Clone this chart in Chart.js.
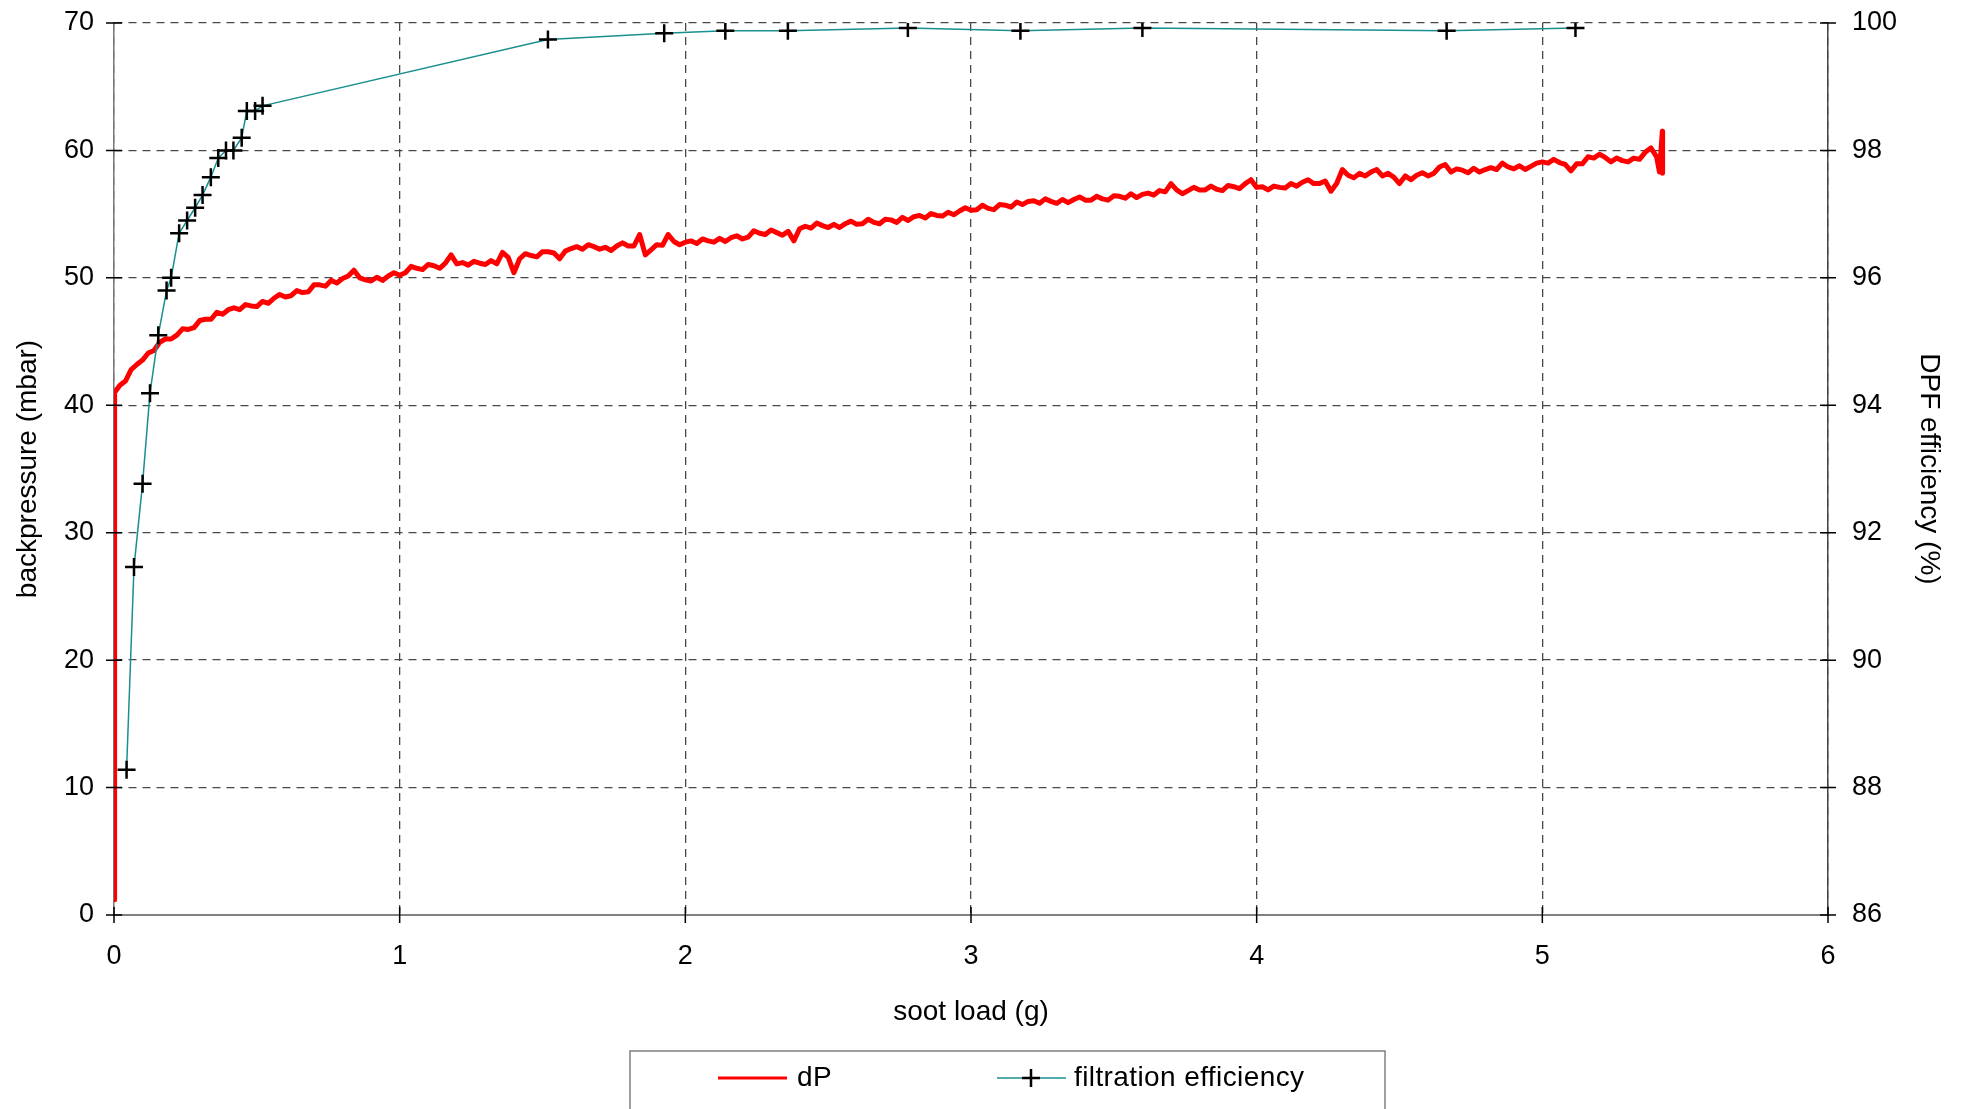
<!DOCTYPE html>
<html>
<head>
<meta charset="utf-8">
<script src="https://cdn.jsdelivr.net/npm/chart.js@4.4.1/dist/chart.umd.min.js"></script>
<style>
  html, body { margin: 0; padding: 0; background: #fff; }
  canvas { display: block; }
</style>
</head>
<body>
<canvas id="chart" width="1961" height="1109"></canvas>
<script>
// soot load (g) of the logged backpressure trace
const dpSoot = [
  0, 0.002,
  0.02,0.04,0.06,0.08,0.10,0.12,0.14,0.16,0.18,0.20,
  0.22,0.24,0.26,0.28,0.30,0.32,0.34,0.36,0.38,0.40,
  0.42,0.44,0.46,0.48,0.50,0.52,0.54,0.56,0.58,0.60,
  0.62,0.64,0.66,0.68,0.70,0.72,0.74,0.76,0.78,0.80,
  0.82,0.84,0.86,0.88,0.90,0.92,0.94,0.96,0.98,1.00,
  1.02,1.04,1.06,1.08,1.10,1.12,1.14,1.16,1.18,1.20,
  1.22,1.24,1.26,1.28,1.30,1.32,1.34,1.36,1.38,1.40,
  1.42,1.44,1.46,1.48,1.50,1.52,1.54,1.56,1.58,1.60,
  1.62,1.64,1.66,1.68,1.70,1.72,1.74,1.76,1.78,1.80,
  1.82,1.84,1.86,1.88,1.90,1.92,1.94,1.96,1.98,2.00,
  2.02,2.04,2.06,2.08,2.10,2.12,2.14,2.16,2.18,2.20,
  2.22,2.24,2.26,2.28,2.30,2.32,2.34,2.36,2.38,2.40,
  2.42,2.44,2.46,2.48,2.50,2.52,2.54,2.56,2.58,2.60,
  2.62,2.64,2.66,2.68,2.70,2.72,2.74,2.76,2.78,2.80,
  2.82,2.84,2.86,2.88,2.90,2.92,2.94,2.96,2.98,3.00,
  3.02,3.04,3.06,3.08,3.10,3.12,3.14,3.16,3.18,3.20,
  3.22,3.24,3.26,3.28,3.30,3.32,3.34,3.36,3.38,3.40,
  3.42,3.44,3.46,3.48,3.50,3.52,3.54,3.56,3.58,3.60,
  3.62,3.64,3.66,3.68,3.70,3.72,3.74,3.76,3.78,3.80,
  3.82,3.84,3.86,3.88,3.90,3.92,3.94,3.96,3.98,4.00,
  4.02,4.04,4.06,4.08,4.10,4.12,4.14,4.16,4.18,4.20,
  4.22,4.24,4.26,4.28,4.30,4.32,4.34,4.36,4.38,4.40,
  4.42,4.44,4.46,4.48,4.50,4.52,4.54,4.56,4.58,4.60,
  4.62,4.64,4.66,4.68,4.70,4.72,4.74,4.76,4.78,4.80,
  4.82,4.84,4.86,4.88,4.90,4.92,4.94,4.96,4.98,5.00,
  5.02,5.04,5.06,5.08,5.10,5.12,5.14,5.16,5.18,5.20,
  5.22,5.24,5.26,5.28,5.30,5.32,5.34,5.36,5.38,5.40,
  5.41, 5.42, 5.421
];

// backpressure dP (mbar)
const dpValues = [
  1.2, 41.0,
  41.55,41.9,42.8,43.2,43.55,44.1,44.3,44.95,45.2,45.2,
  45.5,46.0,45.95,46.1,46.65,46.75,46.75,47.3,47.15,47.5,
  47.65,47.5,47.9,47.8,47.75,48.15,48.0,48.4,48.7,48.5,
  48.6,49.0,48.85,48.9,49.45,49.45,49.35,49.8,49.6,49.95,
  50.15,50.6,50.0,49.85,49.75,50.05,49.8,50.15,50.4,50.2,
  50.4,50.9,50.75,50.65,51.05,50.95,50.75,51.15,51.8,51.1,
  51.2,51.0,51.3,51.15,51.05,51.35,51.1,52.0,51.6,50.4,
  51.5,51.9,51.75,51.65,52.05,52.05,51.95,51.5,52.1,52.3,
  52.45,52.25,52.6,52.45,52.25,52.4,52.15,52.5,52.75,52.5,
  52.5,53.4,51.8,52.2,52.6,52.55,53.4,52.85,52.6,52.8,
  52.9,52.7,53.05,52.9,52.8,53.1,52.85,53.15,53.3,53.05,
  53.2,53.7,53.5,53.4,53.75,53.55,53.35,53.65,52.9,53.85,
  54.05,53.9,54.3,54.1,53.95,54.2,53.95,54.25,54.45,54.2,
  54.25,54.6,54.35,54.25,54.6,54.55,54.35,54.75,54.5,54.8,
  54.9,54.7,55.05,54.9,54.85,55.15,54.95,55.25,55.5,55.3,
  55.35,55.7,55.45,55.35,55.75,55.7,55.55,55.95,55.75,56.0,
  56.05,55.85,56.2,56.0,55.85,56.15,55.9,56.15,56.35,56.1,
  56.1,56.4,56.2,56.1,56.45,56.4,56.25,56.6,56.3,56.55,
  56.65,56.5,56.85,56.75,57.4,56.9,56.6,56.85,57.1,56.9,
  56.9,57.2,56.95,56.85,57.25,57.15,57.0,57.4,57.7,57.1,
  57.15,56.9,57.2,57.1,57.05,57.4,57.2,57.5,57.7,57.4,
  57.4,57.6,56.8,57.4,58.5,58.05,57.85,58.2,58.0,58.3,
  58.5,58.0,58.2,57.9,57.4,58.0,57.7,58.05,58.25,58.0,
  58.2,58.7,58.9,58.3,58.55,58.45,58.25,58.6,58.3,58.5,
  58.65,58.5,59.0,58.7,58.55,58.8,58.5,58.75,59.0,59.1,
  59.0,59.3,59.05,58.9,58.4,58.95,58.95,59.5,59.4,59.7,
  59.45,59.1,59.4,59.2,59.1,59.4,59.3,59.85,60.2,59.5,
  58.3, 61.5, 58.2
];

// filtration efficiency measurements
const effSoot = [0.044, 0.07, 0.10, 0.126, 0.155, 0.184, 0.20, 0.228, 0.256, 0.284,
  0.31, 0.339, 0.365, 0.392, 0.418, 0.447, 0.465, 0.494, 0.52,
  1.519, 1.926, 2.14, 2.359, 2.779, 3.173, 3.60, 4.665, 5.116];
const effValues = [88.28, 91.46, 92.77, 94.19, 95.1, 95.8, 96.0, 96.7, 96.9, 97.1,
  97.3, 97.58, 97.88, 98.0, 98.0, 98.2, 98.62, 98.62, 98.7,
  99.74, 99.84, 99.88, 99.88, 99.92, 99.88, 99.92, 99.88, 99.92];

const fontFamily = "'Liberation Sans', Arial, sans-serif";
const gridColor = '#484848';
const gridDash = [8, 6];

// tick marks that cross the axis lines, like the spreadsheet original
const crossTicks = {
  id: 'crossTicks',
  afterDraw(chart) {
    const { ctx, chartArea, scales } = chart;
    ctx.save();
    ctx.strokeStyle = '#000';
    ctx.lineWidth = 1.5;
    ctx.beginPath();
    scales.y.ticks.forEach(t => {
      const py = scales.y.getPixelForValue(t.value);
      ctx.moveTo(chartArea.left - 8, py);
      ctx.lineTo(chartArea.left + 8, py);
    });
    scales.y1.ticks.forEach(t => {
      const py = scales.y1.getPixelForValue(t.value);
      ctx.moveTo(chartArea.right - 8, py);
      ctx.lineTo(chartArea.right + 8, py);
    });
    scales.x.ticks.forEach(t => {
      const px = scales.x.getPixelForValue(t.value);
      ctx.moveTo(px, chartArea.bottom - 8);
      ctx.lineTo(px, chartArea.bottom + 8);
    });
    ctx.stroke();
    ctx.restore();
  }
};

// boxed legend under the plot
const legendBox = {
  id: 'legendBox',
  afterDraw(chart) {
    const ctx = chart.ctx;
    const dp = chart.data.datasets[0];
    const eff = chart.data.datasets[1];
    const y = 1078;
    ctx.save();
    ctx.strokeStyle = '#808080';
    ctx.lineWidth = 1.5;
    ctx.strokeRect(630, 1051, 755, 80);

    ctx.strokeStyle = dp.borderColor;
    ctx.lineWidth = 3;
    ctx.beginPath();
    ctx.moveTo(718, y);
    ctx.lineTo(787, y);
    ctx.stroke();

    ctx.strokeStyle = eff.borderColor;
    ctx.lineWidth = 1.5;
    ctx.beginPath();
    ctx.moveTo(997, y);
    ctx.lineTo(1066, y);
    ctx.stroke();
    ctx.strokeStyle = '#000';
    ctx.lineWidth = 2.5;
    ctx.beginPath();
    ctx.moveTo(1031 - 9, y);
    ctx.lineTo(1031 + 9, y);
    ctx.moveTo(1031, y - 9);
    ctx.lineTo(1031, y + 9);
    ctx.stroke();

    ctx.fillStyle = '#000';
    ctx.font = '28px ' + fontFamily;
    ctx.textBaseline = 'middle';
    ctx.textAlign = 'left';
    ctx.letterSpacing = '0.4px';
    ctx.fillText(dp.label, 797, y);
    ctx.fillText(eff.label, 1074, y);
    ctx.restore();
  }
};

// y labels may overhang the plot edges without shrinking the plot
const noOverhang = s => { s.paddingTop = 0; s.paddingBottom = 0; };

new Chart(document.getElementById('chart'), {
  type: 'line',
  data: {
    datasets: [
      {
        label: 'dP',
        data: dpSoot.map((x, i) => ({ x: x, y: dpValues[i] })),
        borderColor: '#ff0000',
        borderWidth: 5,
        borderJoinStyle: 'round',
        pointRadius: 0,
        tension: 0,
        yAxisID: 'y',
        order: 2
      },
      {
        label: 'filtration efficiency',
        data: effSoot.map((x, i) => ({ x: x, y: effValues[i] })),
        borderColor: '#1a8f8f',
        borderWidth: 1.5,
        pointStyle: 'cross',
        pointRadius: 9,
        pointBorderColor: '#000',
        pointBorderWidth: 2.5,
        tension: 0,
        yAxisID: 'y1',
        order: 1
      }
    ]
  },
  options: {
    responsive: false,
    animation: false,
    layout: { padding: { top: 23, left: 0, right: 0, bottom: 0 } },
    plugins: {
      legend: { display: false },
      tooltip: { enabled: false }
    },
    scales: {
      x: {
        type: 'linear',
        min: 0,
        max: 6,
        afterFit: s => { s.height = 194; },
        ticks: { stepSize: 1, color: '#000', padding: 25, font: { family: fontFamily, size: 27 } },
        grid: { color: gridColor, lineWidth: 1.3, drawTicks: false },
        border: { color: '#808080', width: 2, dash: gridDash },
        title: {
          display: true,
          text: 'soot load (g)',
          color: '#000',
          font: { family: fontFamily, size: 28 },
          padding: { top: 0, bottom: 80 }
        }
      },
      y: {
        type: 'linear',
        position: 'left',
        min: 0,
        max: 70,
        afterFit: s => { s.width = 114; noOverhang(s); },
        ticks: { stepSize: 10, color: '#000', padding: 20, font: { family: fontFamily, size: 27 } },
        grid: { color: gridColor, lineWidth: 1.3, drawTicks: false },
        border: { color: '#777', width: 1.5, dash: gridDash },
        title: {
          display: true,
          text: 'backpressure (mbar)',
          color: '#000',
          font: { family: fontFamily, size: 28 },
          padding: { top: 11, bottom: 0 }
        }
      },
      y1: {
        type: 'linear',
        position: 'right',
        min: 86,
        max: 100,
        afterFit: s => { s.width = 133; noOverhang(s); },
        ticks: { stepSize: 2, color: '#000', padding: 24, font: { family: fontFamily, size: 27 } },
        grid: { drawOnChartArea: false, drawTicks: false },
        border: { color: '#444', width: 1.5 },
        title: {
          display: true,
          text: 'DPF efficiency (%)',
          color: '#000',
          font: { family: fontFamily, size: 28 },
          padding: { top: 15, bottom: 0 }
        }
      }
    }
  },
  plugins: [crossTicks, legendBox]
});
</script>
</body>
</html>
